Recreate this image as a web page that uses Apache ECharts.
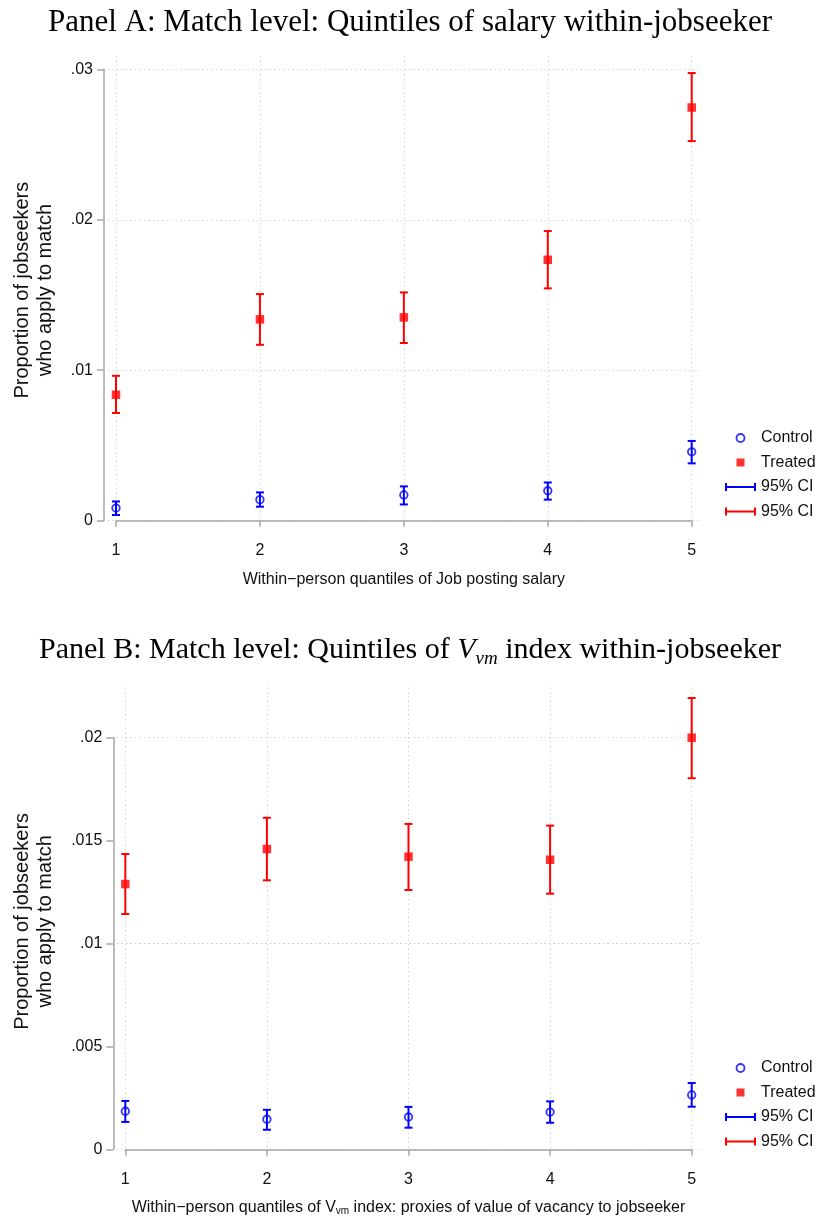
<!DOCTYPE html>
<html><head><meta charset="utf-8">
<script src="https://cdn.jsdelivr.net/npm/echarts@6/dist/echarts.min.js"></script>
<style>html,body{margin:0;padding:0;background:#fff}#c{width:820px;height:1220px}</style>
</head><body><div id="c"></div>
<script>
// ---------------- DATA ----------------
const quantiles = [1, 2, 3, 4, 5];

// Panel A: quintiles of salary
const A_treated    = [0.00837, 0.01338, 0.01351, 0.01734, 0.02746];
const A_treated_lo = [0.00716, 0.01169, 0.01181, 0.01544, 0.02523];
const A_treated_hi = [0.00963, 0.01506, 0.01517, 0.01925, 0.02975];
const A_control    = [0.00084, 0.00140, 0.00171, 0.00199, 0.00458];
const A_control_lo = [0.00038, 0.00093, 0.00108, 0.00140, 0.00381];
const A_control_hi = [0.00128, 0.00188, 0.00228, 0.00254, 0.00530];

// Panel B: quintiles of V_vm index
const B_treated    = [0.01289, 0.01459, 0.01422, 0.01407, 0.02000];
const B_treated_lo = [0.01143, 0.01307, 0.01260, 0.01242, 0.01803];
const B_treated_hi = [0.01435, 0.01611, 0.01581, 0.01573, 0.02193];
const B_control    = [0.00185, 0.00146, 0.00157, 0.00181, 0.00264];
const B_control_lo = [0.00133, 0.00095, 0.00105, 0.00129, 0.00207];
const B_control_hi = [0.00235, 0.00192, 0.00206, 0.00233, 0.00322];

const A_yTicks = [0, 0.01, 0.02, 0.03];
const A_yTickLabels = ['0', '.01', '.02', '.03'];
const B_yTicks = [0, 0.005, 0.01, 0.015, 0.02];
const B_yTickLabels = ['0', '.005', '.01', '.015', '.02'];

// ---------------- LAYOUT ----------------
const BLUE = '#0000ff', RED = '#ff0000';
const AXIS_GRAY = '#a6a6a6', GRID_GRAY = '#cccccc';
const SANS = 'Liberation Sans', SERIF = 'Liberation Serif';
const CI_PATH = 'path://M0,0h2v3h27v-3h2v8h-2v-3h-27v3h-2z';
const SQ_PATH = 'path://M0,0h8v8h-8z';

const L = {
  A: {axLeft: 116, axRight: 691.7, axTop: 69.3, axBottom: 520.7,
      xExt: [0.9444, 5.0716], yExt: [-0.0003, 0.03095], yMax: 0.03, yInt: 0.01},
  B: {axLeft: 125.3, axRight: 691.7, axTop: 737.7, axBottom: 1149.3,
      xExt: [0.9414, 5.0706], yExt: [-0.00036, 0.022512], yMax: 0.02, yInt: 0.005}
};
function axisGrid(p) {
  return {left: p.axLeft, top: p.axTop, width: p.axRight - p.axLeft, height: p.axBottom - p.axTop};
}
function dataGrid(p) {
  const sx = (p.axRight - p.axLeft) / 4, sy = (p.axBottom - p.axTop) / p.yMax;
  const left = p.axLeft + (p.xExt[0] - 1) * sx, right = p.axRight + (p.xExt[1] - 5) * sx;
  const top = p.axTop - (p.yExt[1] - p.yMax) * sy, bottom = p.axBottom - p.yExt[0] * sy;
  return {left: left, top: top, width: right - left, height: bottom - top};
}
function labelFor(v, ticks, labels) {
  for (let i = 0; i < ticks.length; i++) if (Math.abs(ticks[i] - v) < 1e-9) return labels[i];
  return '';
}

const axisLabelStyle = {fontFamily: SANS, fontSize: 16, color: '#111'};

function makeAxisX(gi, name, gap, rich) {
  return {
    gridIndex: gi, type: 'value', min: 1, max: 5, interval: 1, offset: 12,
    axisLine: {show: true, lineStyle: {color: AXIS_GRAY, width: 1.5}},
    axisTick: {show: true, length: 6, lineStyle: {color: AXIS_GRAY, width: 1.5}},
    axisLabel: Object.assign({margin: 10}, axisLabelStyle),
    splitLine: {show: false},
    name: name, nameLocation: 'middle', nameGap: gap,
    nameTextStyle: {fontFamily: SANS, fontSize: 16, color: '#111', lineHeight: 18, rich: rich || {}}
  };
}
function makeAxisY(gi, max, interval, ticks, labels) {
  return {
    gridIndex: gi, type: 'value', min: 0, max: max, interval: interval, offset: 12,
    axisLine: {show: true, lineStyle: {color: AXIS_GRAY, width: 1.5}},
    axisTick: {show: true, length: 7, lineStyle: {color: AXIS_GRAY, width: 1.5}},
    axisLabel: Object.assign({margin: 11, formatter: v => labelFor(v, ticks, labels)}, axisLabelStyle),
    splitLine: {show: false}
  };
}
function makeDataX(gi, ext) {
  return {gridIndex: gi, type: 'value', min: ext[0], max: ext[1], show: false};
}
function makeDataY(gi, ext, gap) {
  return {
    gridIndex: gi, type: 'value', min: ext[0], max: ext[1], show: true,
    axisLine: {show: false}, axisTick: {show: false}, axisLabel: {show: false}, splitLine: {show: false},
    name: 'Proportion of jobseekers\nwho apply to match', nameLocation: 'middle', nameRotate: 90, nameGap: gap,
    nameTextStyle: {fontFamily: SANS, fontSize: 20, lineHeight: 22.4, color: '#111'}
  };
}

function ciSeries(name, color, xi, yi, lo, hi) {
  return {
    name: name, type: 'custom', xAxisIndex: xi, yAxisIndex: yi, z: 3,
    itemStyle: {color: color},
    data: quantiles.map((q, i) => [q, lo[i], hi[i]]),
    encode: {x: 0, y: [1, 2]},
    renderItem: function (params, api) {
      const x = api.value(0);
      const pLo = api.coord([x, api.value(1)]), pHi = api.coord([x, api.value(2)]);
      const c = 4, st = {stroke: color, lineWidth: 2};
      return {type: 'group', children: [
        {type: 'line', shape: {x1: pLo[0], y1: pLo[1], x2: pHi[0], y2: pHi[1]}, style: st},
        {type: 'line', shape: {x1: pLo[0] - c, y1: pLo[1], x2: pLo[0] + c, y2: pLo[1]}, style: st},
        {type: 'line', shape: {x1: pHi[0] - c, y1: pHi[1], x2: pHi[0] + c, y2: pHi[1]}, style: st}
      ]};
    }
  };
}
function gridSeries(xi, yi, yTicks) {
  return {
    name: 'gridlines', type: 'line', xAxisIndex: xi, yAxisIndex: yi, data: [], z: 0, silent: true,
    markLine: {
      z: 0, silent: true, symbol: 'none', label: {show: false}, animation: false,
      lineStyle: {color: GRID_GRAY, type: [1.2, 3.3], width: 1},
      emphasis: {disabled: true},
      data: quantiles.map(q => ({xAxis: q})).concat(yTicks.map(v => ({yAxis: v})))
    }
  };
}
function pointSeries(name, xi, yi, vals, isCtrl) {
  return {
    name: name, type: 'scatter', xAxisIndex: xi, yAxisIndex: yi, z: 5,
    symbol: isCtrl ? 'circle' : 'rect', symbolSize: isCtrl ? 7.5 : 8.5,
    itemStyle: isCtrl ? {color: 'rgba(0,0,0,0)', borderColor: BLUE, borderWidth: 1.8} : {color: RED},
    data: quantiles.map((q, i) => [q, vals[i]])
  };
}
function legendAt(top) {
  return {
    orient: 'vertical', left: 720, top: top, itemWidth: 31, itemHeight: 8, itemGap: 8.5, itemTextGap: 11,
    selectedMode: false,
    textStyle: {fontFamily: SANS, fontSize: 16, color: '#111'},
    formatter: n => (n.indexOf('CI') === 0 ? '95% CI' : n),
    data: [
      {name: 'Control', icon: 'circle', itemStyle: {color: 'rgba(0,0,0,0)', borderColor: BLUE, borderWidth: 1.8}},
      {name: 'Treated', icon: SQ_PATH, itemStyle: {color: RED}},
      {name: 'CI_ctrl', icon: CI_PATH, itemStyle: {color: BLUE}},
      {name: 'CI_treat', icon: CI_PATH, itemStyle: {color: RED}}
    ]
  };
}

const gA = dataGrid(L.A), gB = dataGrid(L.B);

const option = {
  backgroundColor: '#fff',
  animation: false,
  title: [
    {text: 'Panel A: Match level: Quintiles of salary within-jobseeker', left: 'center', top: 7, padding: 0,
     textStyle: {fontFamily: SERIF, fontSize: 31, fontWeight: 'normal', color: '#000'}},
    {text: 'Panel B: Match level: Quintiles of {v|V}{s|vm} index within-jobseeker', left: 'center', top: 632, padding: 0,
     textStyle: {fontFamily: SERIF, fontSize: 30, fontWeight: 'normal', color: '#000', lineHeight: 36,
       rich: {
         v: {fontFamily: SERIF, fontSize: 30, fontStyle: 'italic', color: '#000', lineHeight: 36},
         s: {fontFamily: SERIF, fontSize: 19, fontStyle: 'italic', color: '#000', lineHeight: 12, verticalAlign: 'bottom'}
       }}}
  ],
  legend: [legendAt(425), legendAt(1055)],
  grid: [axisGrid(L.A), gA, axisGrid(L.B), gB],
  xAxis: [
    makeAxisX(0, 'Within\u2212person quantiles of Job posting salary', 37.5),
    makeDataX(1, L.A.xExt),
    makeAxisX(2, 'Within\u2212person quantiles of V{s|vm} index: proxies of value of vacancy to jobseeker', 37,
      {s: {fontFamily: SANS, fontSize: 10, color: '#111', lineHeight: 8, verticalAlign: 'bottom'}}),
    makeDataX(3, L.B.xExt)
  ],
  yAxis: [
    makeAxisY(0, L.A.yMax, L.A.yInt, A_yTicks, A_yTickLabels),
    makeDataY(1, L.A.yExt, gA.left - 56.5),
    makeAxisY(2, L.B.yMax, L.B.yInt, B_yTicks, B_yTickLabels),
    makeDataY(3, L.B.yExt, gB.left - 56.5)
  ],
  series: [
    gridSeries(1, 1, A_yTicks),
    ciSeries('CI_ctrl', BLUE, 1, 1, A_control_lo, A_control_hi),
    ciSeries('CI_treat', RED, 1, 1, A_treated_lo, A_treated_hi),
    pointSeries('Control', 1, 1, A_control, true),
    pointSeries('Treated', 1, 1, A_treated, false),
    gridSeries(3, 3, B_yTicks),
    ciSeries('CI_ctrl', BLUE, 3, 3, B_control_lo, B_control_hi),
    ciSeries('CI_treat', RED, 3, 3, B_treated_lo, B_treated_hi),
    pointSeries('Control', 3, 3, B_control, true),
    pointSeries('Treated', 3, 3, B_treated, false)
  ]
};

const chart = echarts.init(document.getElementById('c'), null, {renderer: 'canvas'});
chart.setOption(option);
</script>
</body></html>
